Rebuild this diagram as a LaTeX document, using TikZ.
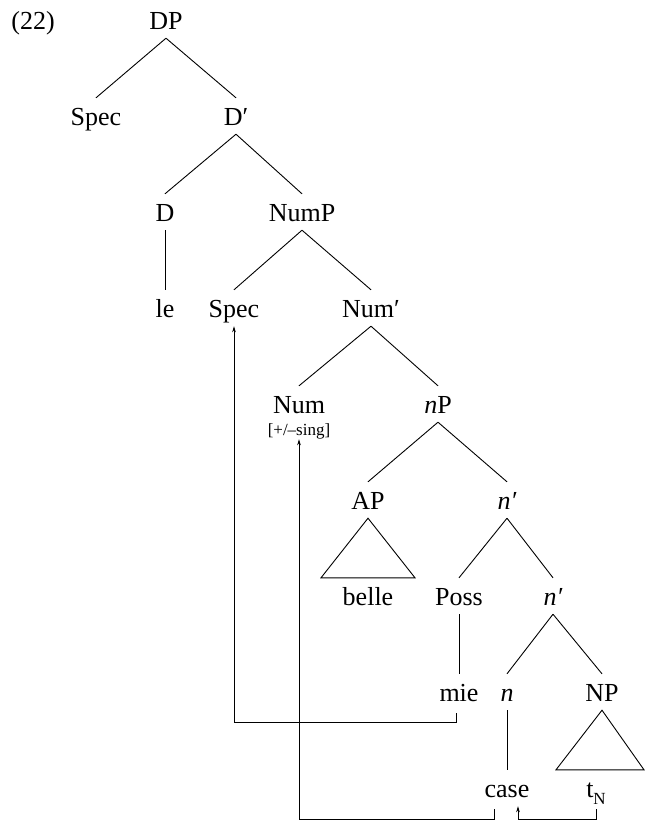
\documentclass[tikz,border=0pt]{standalone}
\usepackage{fontspec}
\setmainfont{Liberation Serif}
\usetikzlibrary{arrows.meta,calc}
\begin{document}
\begin{tikzpicture}[x=1pt,y=-1pt,
  tn/.style={anchor=base, inner sep=0pt, text height=27pt, text depth=9pt, font=\fontsize{26}{30}\selectfont},
  feat/.style={anchor=base, inner sep=0pt, text height=12pt, text depth=4pt, font=\fontsize{17}{20}\selectfont},
  edge/.style={line width=0.9pt},
  arr/.style={line width=0.9pt, -{Stealth[length=6pt,width=3.6pt]}}]
\useasboundingbox (0,0) rectangle (646,823);
% labels
\node[tn] (ex) at (33,29) {(22)};
\node[tn] (DP) at (166,29) {DP};
\node[tn] (Spec1) at (96,125) {Spec};
\node[tn] (Dbar) at (236,125) {D′};
\node[tn] (D) at (165,221) {D};
\node[tn] (NumP) at (302,221) {NumP};
\node[tn] (le) at (165,317) {le};
\node[tn] (Spec2) at (234,317) {Spec};
\node[tn] (Numbar) at (371,317) {Num′};
\node[tn] (Num) at (299,413) {Num};
\node[feat] (numf) at (299,435) {[+/–sing]};
\node[tn] (nP) at (438,413) {\textit{n}P};
\node[tn] (AP) at (368,509) {AP};
\node[tn] (nbar1) at (507,509) {\textit{n′}};
\node[tn] (belle) at (368,605) {belle};
\node[tn] (Poss) at (459,605) {Poss};
\node[tn] (nbar2) at (553,605) {\textit{n′}};
\node[tn] (mie) at (459,701) {mie};
\node[tn] (n) at (507,701) {\textit{n}};
\node[tn] (NP) at (602,701) {NP};
\node[tn] (case) at (507,797) {case};
\node[tn] (tN) at (596,797) {t\raisebox{-0.28em}{\fontsize{17}{20}\selectfont N}};
% tree edges
\draw[edge] (DP.south) -- (Spec1.north);
\draw[edge] (DP.south) -- (Dbar.north);
\draw[edge] (Dbar.south) -- (D.north);
\draw[edge] (Dbar.south) -- (NumP.north);
\draw[edge] (D.south) -- (le.north);
\draw[edge] (NumP.south) -- (Spec2.north);
\draw[edge] (NumP.south) -- (Numbar.north);
\draw[edge] (Numbar.south) -- (Num.north);
\draw[edge] (Numbar.south) -- (nP.north);
\draw[edge] (nP.south) -- (AP.north);
\draw[edge] (nP.south) -- (nbar1.north);
\draw[edge] (nbar1.south) -- (Poss.north);
\draw[edge] (nbar1.south) -- (nbar2.north);
\draw[edge] (Poss.south) -- (mie.north);
\draw[edge] (nbar2.south) -- (n.north);
\draw[edge] (nbar2.south) -- (NP.north);
\draw[edge] (n.south) -- (case.north);
% triangles
\draw[edge] (AP.south) -- ($(belle.north)+(-47,0)$) -- ($(belle.north)+(47,0)$) -- cycle;
\draw[edge] (NP.south) -- ($(tN.north)+(-40,0)$) -- ($(tN.north)+(48,0)$) -- cycle;
% movement arrows
\draw[arr] ($(mie.south)+(-3,3)$) -- ++(0,9) -| (Spec2.south);
\draw[arr] ($(case.south)+(-13,3)$) -- ++(0,10) -| (numf.south);
\draw[arr] ($(tN.south)+(0,3)$) -- ++(0,10) -| ($(case.south)+(11,0)$);
\end{tikzpicture}
\end{document}
